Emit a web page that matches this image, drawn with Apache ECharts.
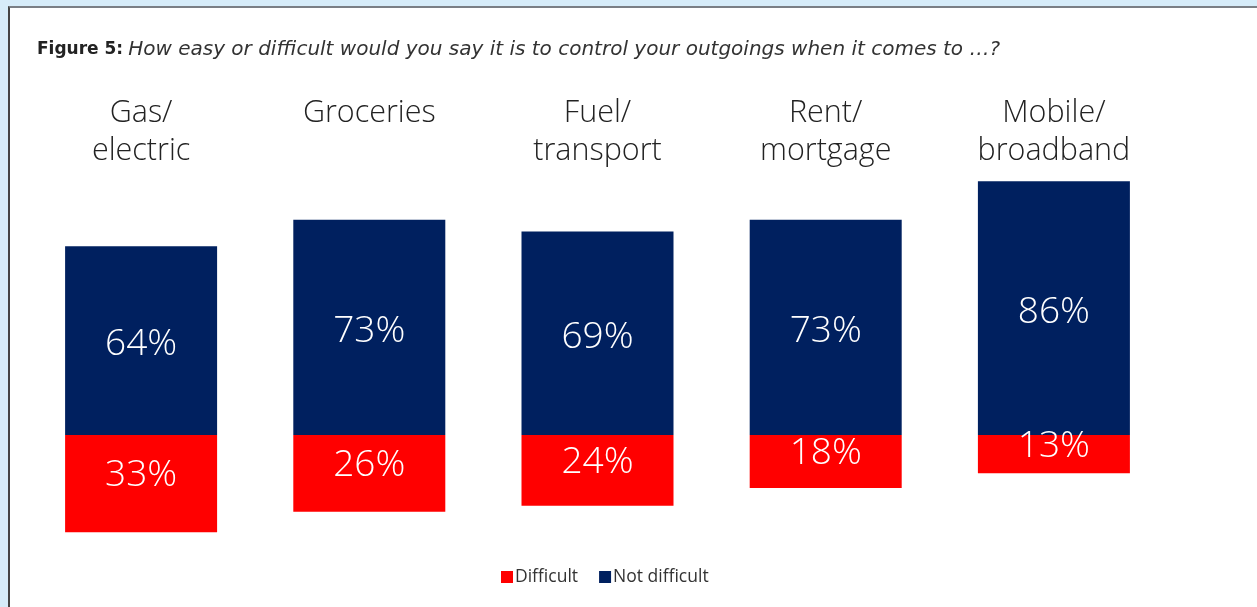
<!DOCTYPE html>
<html><head><meta charset="utf-8">
<script src="https://cdn.jsdelivr.net/npm/echarts@6/dist/echarts.min.js"></script>
<style>
html,body{margin:0;padding:0;width:1257px;height:607px;overflow:hidden;background:#d6ecf9;}
#panel{position:absolute;left:8px;top:6px;width:1249px;height:601px;background:#fff;border-left:2px solid #444;border-top:2px solid #7a7f85;box-sizing:border-box;}
#chart{position:absolute;left:0;top:0;width:1257px;height:607px;}
</style></head>
<body>
<div id="panel"></div>
<div id="chart"></div>
<script>
const categories = ['Gas/\nelectric', 'Groceries', 'Fuel/\ntransport', 'Rent/\nmortgage', 'Mobile/\nbroadband'];
const difficult = [33, 26, 24, 18, 13];
const notDifficult = [64, 73, 69, 73, 86];
const seriesNames = ['Difficult', 'Not difficult'];

const FONT = '"Open Sans", "DejaVu Sans", sans-serif';
const TFONT = '"DejaVu Sans", sans-serif';
const chart = echarts.init(document.getElementById('chart'), null, {renderer: 'canvas'});
chart.setOption({
  animation: false,
  backgroundColor: 'transparent',
  title: {
    left: 37, top: 40, padding: 0,
    text: '{b|Figure 5:} {i|How easy or difficult would you say it is to control your outgoings when it comes to \u2026?}',
    textStyle: {
      fontWeight: 'normal',
      rich: {
        b: {fontFamily: TFONT, fontWeight: 'bold', fontSize: 17, color: '#222'},
        i: {fontFamily: TFONT, fontStyle: 'italic', fontWeight: 'normal', fontSize: 20, color: '#333'}
      }
    }
  },
  legend: {
    bottom: 16, left: 496,
    icon: 'rect', itemWidth: 12, itemHeight: 12, itemGap: 21,
    textStyle: {fontFamily: FONT, fontSize: 17.5, color: '#333', padding: [0,0,0,-3]},
    data: seriesNames
  },
  grid: {left: 27, right: 89, top: 140, bottom: 54},
  xAxis: {
    type: 'category', position: 'top', data: categories,
    axisLine: {show: false}, axisTick: {show: false},
    axisLabel: {fontFamily: FONT, fontWeight: 300, fontSize: 30.5, color: '#222', lineHeight: 38, verticalAlign: 'top', margin: 46, interval: 0}
  },
  yAxis: {type: 'value', min: -40, max: 100, show: false, splitLine: {show: false}},
  series: [
    {
      name: seriesNames[0], type: 'bar', stack: 's', barWidth: 152,
      itemStyle: {color: '#ff0000'},
      data: difficult.map(v => -v),
      label: {show: true, position: 'inside', offset: [0, -8], color: '#fff', fontFamily: FONT, fontWeight: 300, fontSize: 37,
        formatter: p => Math.abs(p.value) + '%'}
    },
    {
      name: seriesNames[1], type: 'bar', stack: 's', barWidth: 152,
      itemStyle: {color: '#00205f'},
      data: notDifficult,
      label: {show: true, position: 'inside', offset: [0, 4], color: '#fff', fontFamily: FONT, fontWeight: 300, fontSize: 37,
        formatter: p => p.value + '%'}
    }
  ]
});
</script>
</body></html>
